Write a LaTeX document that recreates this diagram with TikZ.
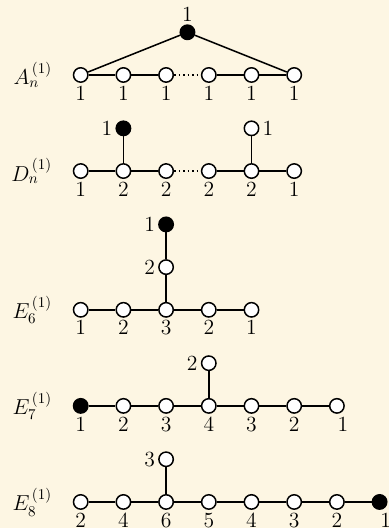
\documentclass[tikz,border=0pt]{standalone}
\usepackage{amsmath,amssymb}
\usepackage{tikz}
\usetikzlibrary{positioning}
\definecolor{paper}{HTML}{FDF6E3}

\begin{document}
\begin{tikzpicture}[
  node distance=1cm, on grid,
  vtx/.style={draw, circle, line width=1pt, fill=white, minimum size=9.6pt, inner sep=0pt},
  aff/.style={vtx, fill=black},
  edg/.style={line width=1pt},
  rowname/.style={anchor=east, font=\Large},
  every label/.style={font=\Large, inner sep=2pt}
]
  \fill[paper] (-1.89,1.756) rectangle (7.22,-10.61);
  \useasboundingbox (-1.89,1.756) rectangle (7.22,-10.61);

  % A_n^(1)
  \node[rowname] (la) at (-0.55,0) {$A_n^{\,(1)}$};
  \node[vtx, label=below:$1$] (a1) at (0,0) {};
  \node[vtx, label=below:$1$, right=of a1] (a2) {};
  \node[vtx, label=below:$1$, right=of a2] (a3) {};
  \node[vtx, label=below:$1$, right=of a3] (a4) {};
  \node[vtx, label=below:$1$, right=of a4] (a5) {};
  \node[vtx, label=below:$1$, right=of a5] (a6) {};
  \node[aff, label=above:$1$] (a0) at (2.5,1) {};
  \draw[edg] (a1) -- (a2) -- (a3);
  \draw[edg, dotted] (a3) -- (a4);
  \draw[edg] (a4) -- (a5) -- (a6);
  \draw[edg] (a1) -- (a0) -- (a6);

  % D_n^(1)
  \node[rowname] (ld) at (-0.55,-2.25) {$D_n^{\,(1)}$};
  \node[vtx, label=below:$1$] (d1) at (0,-2.25) {};
  \node[vtx, label=below:$2$, right=of d1] (d2) {};
  \node[vtx, label=below:$2$, right=of d2] (d3) {};
  \node[vtx, label=below:$2$, right=of d3] (d4) {};
  \node[vtx, label=below:$2$, right=of d4] (d5) {};
  \node[vtx, label=below:$1$, right=of d5] (d6) {};
  \node[aff, label=left:$1$, above=of d2] (d0) {};
  \node[vtx, label=right:$1$, above=of d5] (d7) {};
  \draw[edg] (d1) -- (d2) -- (d3);
  \draw[edg, dotted] (d3) -- (d4);
  \draw[edg] (d4) -- (d5) -- (d6);
  \draw[edg] (d0) -- (d2);
  \draw[edg] (d7) -- (d5);

  % E_6^(1)
  \node[rowname] (le6) at (-0.55,-5.5) {$E_6^{\,(1)}$};
  \node[vtx, label=below:$1$] (e1) at (0,-5.5) {};
  \node[vtx, label=below:$2$, right=of e1] (e2) {};
  \node[vtx, label=below:$3$, right=of e2] (e3) {};
  \node[vtx, label=below:$2$, right=of e3] (e4) {};
  \node[vtx, label=below:$1$, right=of e4] (e5) {};
  \node[vtx, label=left:$2$, above=of e3] (e6) {};
  \node[aff, label=left:$1$, above=of e6] (e0) {};
  \draw[edg] (e1) -- (e2) -- (e3) -- (e4) -- (e5);
  \draw[edg] (e3) -- (e6) -- (e0);

  % E_7^(1)
  \node[rowname] (le7) at (-0.55,-7.75) {$E_7^{\,(1)}$};
  \node[aff, label=below:$1$] (f0) at (0,-7.75) {};
  \node[vtx, label=below:$2$, right=of f0] (f1) {};
  \node[vtx, label=below:$3$, right=of f1] (f2) {};
  \node[vtx, label=below:$4$, right=of f2] (f3) {};
  \node[vtx, label=below:$3$, right=of f3] (f4) {};
  \node[vtx, label=below:$2$, right=of f4] (f5) {};
  \node[vtx, label={[xshift=4pt]below:$1$}, right=of f5] (f6) {};
  \node[vtx, label=left:$2$, above=of f3] (f7) {};
  \draw[edg] (f0) -- (f1) -- (f2) -- (f3) -- (f4) -- (f5) -- (f6);
  \draw[edg] (f3) -- (f7);

  % E_8^(1)
  \node[rowname] (le8) at (-0.55,-10) {$E_8^{\,(1)}$};
  \node[vtx, label=below:$2$] (g1) at (0,-10) {};
  \node[vtx, label=below:$4$, right=of g1] (g2) {};
  \node[vtx, label=below:$6$, right=of g2] (g3) {};
  \node[vtx, label=below:$5$, right=of g3] (g4) {};
  \node[vtx, label=below:$4$, right=of g4] (g5) {};
  \node[vtx, label=below:$3$, right=of g5] (g6) {};
  \node[vtx, label=below:$2$, right=of g6] (g7) {};
  \node[aff, label={[xshift=4pt]below:$1$}, right=of g7] (g0) {};
  \node[vtx, label=left:$3$, above=of g3] (g8) {};
  \draw[edg] (g1) -- (g2) -- (g3) -- (g4) -- (g5) -- (g6) -- (g7) -- (g0);
  \draw[edg] (g3) -- (g8);
\end{tikzpicture}
\end{document}
